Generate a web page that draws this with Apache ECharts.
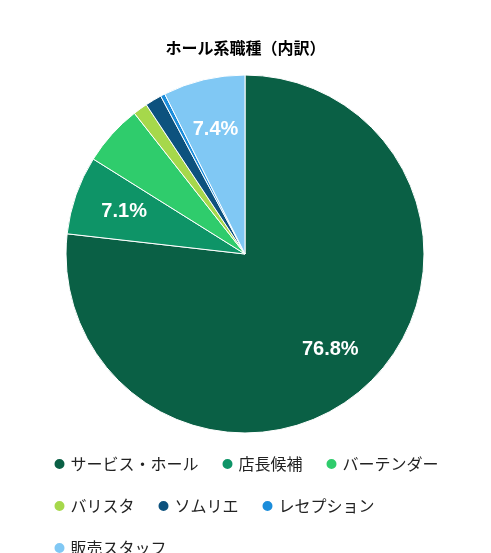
<!DOCTYPE html>
<html><head><meta charset="utf-8">
<script src="https://cdn.jsdelivr.net/npm/echarts@6/dist/echarts.min.js"></script>
<style>html,body{margin:0;padding:0;background:#fff}#c{width:491px;height:553px}</style>
</head><body><div id="c"></div>
<script>
const categories = ['サービス・ホール','店長候補','バーテンダー','バリスタ','ソムリエ','レセプション','販売スタッフ'];
const values = [76.8, 7.1, 5.5, 1.3, 1.5, 0.4, 7.4];
const colors = ['#0a6045','#0e9467','#2fcc6c','#a6d84b','#0d527e','#1b8ddb','#80c8f4'];
const chart = echarts.init(document.getElementById('c'));
const data = categories.map((c,i)=>({name:c,value:values[i]}));
chart.setOption({
  title:{text:'ホール系職種（内訳）',left:'center',top:35,textStyle:{fontSize:16,fontWeight:'bold',color:'#000',fontFamily:'Noto Sans CJK JP'}},
  color:colors,
  legend:{top:449,left:'center',width:440,icon:'circle',itemWidth:12,itemHeight:12,itemGap:22,
    data:categories,
    textStyle:{fontSize:16,color:'#222',fontFamily:'Noto Sans CJK JP',lineHeight:20}},
  series:[{type:'pie',center:[245,254],radius:[0,179],startAngle:90,clockwise:true,
    label:{show:false},labelLine:{show:false},
    itemStyle:{borderColor:'#fff',borderWidth:1},data:data},
   {type:'pie',center:[245,254],radius:[0,250],startAngle:90,clockwise:true,silent:true,
    itemStyle:{color:'transparent'},labelLine:{show:false},
    label:{position:'inside',color:'#fff',fontSize:20,fontWeight:'bold',fontFamily:'Liberation Sans',
      formatter:p=>p.value>=7?p.value.toFixed(1)+'%':''},
    data:data}]
});
</script></body></html>
